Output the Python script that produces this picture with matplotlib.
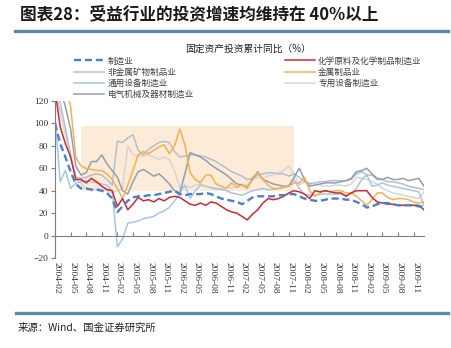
import matplotlib
matplotlib.use("Agg")
import matplotlib.pyplot as plt
from matplotlib.patches import Rectangle

plt.rcParams['font.family'] = ['Noto Sans CJK SC', 'DejaVu Sans']

# ---- data (monthly, 2004-02 .. 2010-01) ----
months = []
y, m = 2004, 2
for _ in range(72):
    months.append(f"{y}-{m:02d}")
    m += 1
    if m > 12:
        m = 1
        y += 1

tick_labels = ["2004-02", "2004-05", "2004-08", "2004-11", "2005-02", "2005-05", "2005-08",
               "2005-11", "2006-02", "2006-05", "2006-08", "2006-11", "2007-02", "2007-05",
               "2007-08", "2007-11", "2008-02", "2008-05", "2008-08", "2008-11", "2009-02",
               "2009-05", "2009-08", "2009-11"]

manufacturing = [100, 82, 70, 57, 46, 42, 42, 41, 41, 40, 38, 33, 21, 26, 31, 34, 35, 35, 36, 36,
                 37, 38, 39, 40, 37, 36, 37, 37, 37, 38, 37, 35, 33, 32, 31, 30, 28, 31, 34, 35,
                 35, 35, 35, 36, 36, 37, 37, 35, 33, 32, 31, 31, 32, 33, 33, 33, 32, 32, 30, 28,
                 25, 26, 28, 29, 29, 28, 27, 27, 27, 27, 26, 26]
chemical = [130, 97, 82, 70, 50, 50, 47, 51, 48, 44, 41, 40, 26, 33, 23, 28, 34, 31, 32, 30,
            33, 31, 34, 35, 34, 31, 28, 27, 29, 27, 30, 29, 26, 23, 21, 20, 17, 14, 19, 23,
            29, 33, 32, 33, 35, 38, 40, 39, 37, 33, 40, 39, 40, 39, 38, 38, 35, 38, 40, 40,
            40, 34, 30, 29, 28, 28, 27, 27, 27, 27, 27, 23]
nonmetal = [135, 118, 96, 72, 52, 51, 52, 54, 55, 54, 50, 45, 84, 83, 87, 90, 76, 72, 77, 80,
            83, 84, 83, 75, 70, 71, 72, 72, 71, 70, 68, 66, 63, 60, 57, 55, 53, 50, 51, 54,
            55, 56, 56, 55, 55, 53, 55, 52, 48, 46, 47, 48, 48, 49, 49, 49, 49, 50, 55, 57,
            54, 54, 50, 50, 48, 48, 47, 46, 44, 43, 42, 41]
metal = [160, 150, 135, 115, 70, 62, 60, 59, 58, 58, 55, 50, 42, 33, 45, 58, 72, 75, 73, 76,
         79, 81, 73, 80, 95, 81, 56, 50, 47, 54, 54, 46, 44, 42, 47, 43, 45, 42, 52, 56,
         50, 45, 42, 42, 43, 44, 47, 47, 52, 40, 35, 38, 40, 39, 40, 40, 38, 38, 35, 31,
         27, 32, 38, 38, 34, 32, 33, 33, 32, 30, 29, 30]
general_equip = [107, 48, 58, 42, 47, 48, 49, 48, 47, 46, 45, 40, -10, -3, 11, 12, 13, 15, 16, 17,
                 20, 22, 25, 31, 38, 45, 33, 40, 45, 44, 43, 42, 41, 40, 38, 37, 36, 38, 40, 41,
                 42, 41, 41, 42, 43, 45, 50, 42, 37, 36, 36, 37, 37, 37, 37, 37, 36, 38, 42, 50,
                 54, 44, 45, 47, 45, 44, 43, 42, 41, 40, 39, 27]
special_equip = [130, 110, 90, 70, 52, 46, 42, 40, 42, 41, 40, 38, 40, 42, 80, 72, 71, 71, 72, 70,
                 68, 70, 68, 58, 43, 44, 43, 45, 46, 44, 42, 41, 42, 43, 42, 44, 46, 45, 50, 52,
                 51, 53, 54, 56, 58, 62, 55, 45, 48, 47, 46, 45, 44, 44, 45, 45, 44, 46, 52, 51,
                 50, 48, 46, 42, 40, 38, 37, 36, 35, 34, 33, 39]
electrical = [150, 130, 115, 95, 62, 54, 56, 66, 66, 72, 64, 58, 52, 40, 37, 48, 57, 59, 56, 53,
              55, 51, 46, 40, 38, 55, 74, 72, 70, 67, 63, 60, 57, 54, 50, 46, 45, 43, 50, 57,
              50, 48, 46, 45, 44, 44, 52, 60, 50, 44, 45, 46, 47, 47, 47, 48, 49, 51, 57, 58,
              60, 55, 51, 50, 52, 50, 50, 51, 49, 50, 51, 44]

names = ["制造业", "化学原料及化学制品制造业", "非金属矿物制品业", "金属制品业",
         "通用设备制造业", "专用设备制造业", "电气机械及器材制造业"]

highlight_start, highlight_end = "2004-07", "2007-12"
highlight_low, highlight_high = 40, 98

# ---- figure ----
fig = plt.figure(figsize=(4.52, 3.48), dpi=100)
ax = fig.add_axes([55/452, 1-258/348, (424-55)/452, (258-101)/348])

x = list(range(len(months)))
xi = {mm: i for i, mm in enumerate(months)}

ax.add_patch(Rectangle((xi[highlight_start], highlight_low),
                       xi[highlight_end]-xi[highlight_start], highlight_high-highlight_low,
                       facecolor='#fdebd8', edgecolor='none', zorder=0))

lw = 1.1
h_spec, = ax.plot(x, special_equip, color='#d6d6d6', lw=lw, label=names[5])
h_nonm, = ax.plot(x, nonmetal, color='#adc0d3', lw=lw, label=names[2])
h_gen, = ax.plot(x, general_equip, color='#a6c6e6', lw=lw, label=names[4])
h_elec, = ax.plot(x, electrical, color='#939eae', lw=lw, label=names[6])
h_met, = ax.plot(x, metal, color='#f9b04e', lw=lw, label=names[3])
h_chem, = ax.plot(x, chemical, color='#d2282e', lw=lw, label=names[1])
h_manu, = ax.plot(x, manufacturing, color='#4a7fd0', lw=1.7, ls=(0, (3, 1.6)), label=names[0])

ax.set_xlim(0, len(months)-1)
ax.set_ylim(-20, 120)
ax.set_yticks(range(-20, 121, 20))
ax.tick_params(axis='y', direction='out', length=3, width=0.8, color='#7f7f7f',
               labelsize=6.8, pad=2, labelcolor='#333333')
for lab in ax.get_yticklabels():
    lab.set_family(['Liberation Serif'])

ax.spines['top'].set_visible(False)
ax.spines['right'].set_visible(False)
ax.spines['left'].set_color('#7f7f7f')
ax.spines['bottom'].set_color('#7f7f7f')
ax.spines['bottom'].set_position(('data', 0))
ax.spines['left'].set_linewidth(0.8)
ax.spines['bottom'].set_linewidth(0.8)

ax.set_xticks([xi[t] for t in tick_labels])
ax.tick_params(axis='x', direction='in', length=3, width=0.8, color='#7f7f7f', labelbottom=False)
for t in tick_labels:
    ax.text(xi[t] + 0.3, -0.025, t, transform=ax.get_xaxis_transform(), rotation=270,
            ha='center', va='top', fontsize=6.8, family=['Liberation Serif'], color='#333333')

# legend
handles = [h_manu, h_nonm, h_gen, h_elec, h_chem, h_met, h_spec]
leg = fig.legend(handles=handles, labels=[h.get_label() for h in handles], ncol=2,
                 loc='upper left', bbox_to_anchor=(70/452, 1-40/348), frameon=False,
                 fontsize=6.2, handlelength=3.5, handletextpad=0.4, columnspacing=10.5,
                 labelspacing=0.25, borderpad=0, title="固定资产投资累计同比（%）",
                 title_fontsize=7)
for txt in leg.get_texts():
    txt.set_color('#404040')
leg.get_title().set_color('#222222')

# header / footer
fig.text(20/452, 1-14/348, "图表28：受益行业的投资增速均维持在 40%以上", fontsize=12,
         fontweight='bold', color='#1a1a1a', ha='left', va='center', style='italic')
fig.add_artist(plt.Line2D([15/452, 448/452], [1-31/348, 1-31/348], color='#5d8aa5', lw=2.4))
fig.add_artist(plt.Line2D([16/452, 448/452], [1-313/348, 1-313/348], color='#5d8aa5', lw=2.4))
fig.text(18/452, 1-328/348, "来源：Wind、国金证券研究所", fontsize=7.5, color='#222222',
         ha='left', va='center')

fig.savefig("out.png", dpi=100)
